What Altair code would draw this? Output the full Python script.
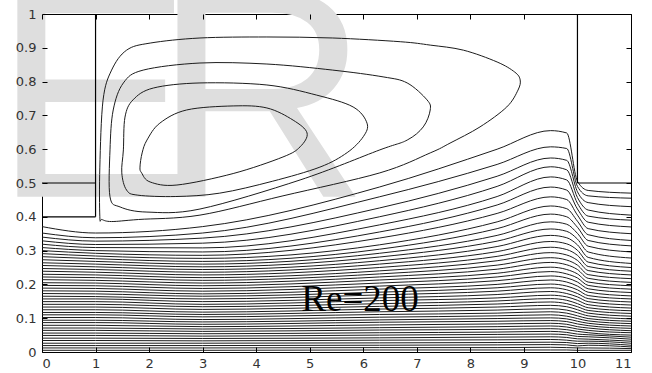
import altair as alt
import pandas as pd

# ---------------- axis ticks ----------------
X_TICKS = list(range(0, 12))
Y_TICKS = [0, 0.1, 0.2, 0.3, 0.4, 0.5, 0.6, 0.7, 0.8, 0.9, 1]

# ---------------- solid walls (x1, y1, x2, y2) ----------------
WALL_X1 = [0, 0, 1, 10, 10]
WALL_Y1 = [0.4, 0.5, 0.4, 0.5, 0.5]
WALL_X2 = [1, 1, 1, 10, 11]
WALL_Y2 = [0.4, 0.5, 1.0, 1.0, 0.5]

# ---------------- closed recirculation streamlines ----------------
VORTEX_1_X = [1.08, 1.08, 1.14, 1.30, 1.58, 2.02, 2.95, 4.20, 5.43, 6.69, 7.25, 7.87, 8.50, 8.83, 8.93,
              8.89, 8.68, 8.18, 7.62, 7.25, 6.31, 4.50, 2.95, 1.80, 1.30, 1.12]
VORTEX_1_Y = [0.40, 0.547, 0.745, 0.834, 0.893, 0.914, 0.929, 0.932, 0.929, 0.918, 0.908, 0.893, 0.858, 0.828, 0.805,
              0.775, 0.725, 0.666, 0.618, 0.589, 0.530, 0.462, 0.405, 0.392, 0.386, 0.392]

VORTEX_2_X = [1.27, 1.27, 1.33, 1.52, 1.89, 2.95, 4.20, 5.43, 6.37, 6.82, 7.19, 7.25, 7.12, 6.82, 6.31,
              4.82, 2.95, 1.96, 1.46]
VORTEX_2_Y = [0.459, 0.598, 0.716, 0.796, 0.834, 0.855, 0.852, 0.834, 0.814, 0.796, 0.746, 0.716, 0.666, 0.627, 0.598,
              0.509, 0.423, 0.414, 0.429]

VORTEX_3_X = [1.49, 1.52, 1.55, 1.70, 2.08, 2.95, 4.20, 5.13, 5.81, 6.07, 6.00, 5.70, 5.19, 4.30, 3.32,
              2.50, 1.79, 1.58]
VORTEX_3_Y = [0.53, 0.598, 0.695, 0.746, 0.781, 0.796, 0.790, 0.760, 0.725, 0.677, 0.637, 0.590, 0.547, 0.505, 0.470,
              0.460, 0.464, 0.479]

VORTEX_4_X = [1.83, 1.87, 1.96, 2.20, 2.70, 3.57, 4.20, 4.69, 4.95, 4.82, 4.50, 3.57, 2.52, 2.02, 1.86]
VORTEX_4_Y = [0.547, 0.589, 0.627, 0.677, 0.716, 0.728, 0.722, 0.686, 0.648, 0.607, 0.577, 0.528, 0.494, 0.503, 0.53]

# ---------------- through-flow streamlines, y read at fixed x stations ----------------
STATIONS = [0, 1, 3, 6.3, 8.5, 9.5, 9.8, 10.0, 10.2, 11]
Y_X0 = [0.371, 0.352, 0.340, 0.329, 0.319, 0.309, 0.300, 0.291, 0.282, 0.273, 0.264, 0.256, 0.247, 0.239, 0.230,
        0.222, 0.214, 0.205, 0.197, 0.189, 0.181, 0.173, 0.165, 0.157, 0.149, 0.141, 0.133, 0.125, 0.117, 0.110,
        0.102, 0.094, 0.087, 0.079, 0.071, 0.064, 0.056, 0.049, 0.041, 0.034, 0.026, 0.019, 0.012, 0.005]
Y_X1 = [0.352, 0.338, 0.328, 0.318, 0.309, 0.300, 0.292, 0.284, 0.276, 0.268, 0.260, 0.252, 0.244, 0.236, 0.228,
        0.220, 0.212, 0.204, 0.196, 0.188, 0.180, 0.172, 0.164, 0.157, 0.149, 0.141, 0.133, 0.125, 0.117, 0.110,
        0.102, 0.094, 0.087, 0.079, 0.071, 0.064, 0.056, 0.049, 0.041, 0.034, 0.026, 0.019, 0.012, 0.005]
Y_X3 = [0.371, 0.352, 0.337, 0.322, 0.308, 0.296, 0.286, 0.277, 0.268, 0.260, 0.252, 0.244, 0.236, 0.228, 0.220,
        0.212, 0.204, 0.196, 0.188, 0.180, 0.172, 0.165, 0.157, 0.149, 0.141, 0.134, 0.126, 0.118, 0.111, 0.104,
        0.096, 0.089, 0.082, 0.075, 0.068, 0.061, 0.054, 0.047, 0.040, 0.033, 0.026, 0.019, 0.012, 0.005]
Y_X63 = [0.488, 0.459, 0.426, 0.400, 0.376, 0.355, 0.337, 0.317, 0.304, 0.292, 0.281, 0.270, 0.260, 0.250, 0.240,
         0.231, 0.222, 0.213, 0.204, 0.195, 0.186, 0.177, 0.169, 0.160, 0.152, 0.143, 0.135, 0.127, 0.119, 0.111,
         0.103, 0.095, 0.088, 0.080, 0.072, 0.065, 0.057, 0.050, 0.042, 0.035, 0.027, 0.020, 0.013, 0.006]
Y_X85 = [0.600, 0.555, 0.520, 0.490, 0.460, 0.435, 0.410, 0.385, 0.365, 0.345, 0.328, 0.312, 0.297, 0.283, 0.270,
         0.257, 0.245, 0.233, 0.222, 0.211, 0.200, 0.190, 0.180, 0.170, 0.160, 0.151, 0.142, 0.133, 0.124, 0.115,
         0.107, 0.099, 0.091, 0.083, 0.075, 0.067, 0.059, 0.052, 0.044, 0.036, 0.028, 0.021, 0.013, 0.006]
Y_X95 = [0.655, 0.607, 0.574, 0.548, 0.518, 0.488, 0.459, 0.432, 0.408, 0.385, 0.364, 0.345, 0.327, 0.310, 0.294,
         0.279, 0.265, 0.251, 0.238, 0.225, 0.213, 0.201, 0.190, 0.179, 0.168, 0.158, 0.148, 0.138, 0.128, 0.119,
         0.110, 0.101, 0.093, 0.085, 0.077, 0.069, 0.061, 0.053, 0.045, 0.037, 0.029, 0.022, 0.014, 0.006]
Y_X98 = [0.648, 0.602, 0.567, 0.539, 0.509, 0.479, 0.451, 0.424, 0.400, 0.378, 0.357, 0.338, 0.320, 0.303, 0.287,
         0.272, 0.258, 0.244, 0.231, 0.219, 0.207, 0.195, 0.184, 0.173, 0.163, 0.153, 0.143, 0.134, 0.124, 0.115,
         0.106, 0.098, 0.090, 0.082, 0.074, 0.066, 0.058, 0.051, 0.043, 0.035, 0.028, 0.021, 0.013, 0.006]
Y_X100 = [0.505, 0.490, 0.474, 0.457, 0.440, 0.423, 0.405, 0.387, 0.369, 0.351, 0.334, 0.317, 0.301, 0.286, 0.271,
          0.257, 0.244, 0.231, 0.219, 0.207, 0.195, 0.184, 0.173, 0.163, 0.153, 0.143, 0.134, 0.125, 0.116, 0.107,
          0.099, 0.091, 0.083, 0.075, 0.068, 0.061, 0.053, 0.046, 0.039, 0.032, 0.025, 0.018, 0.012, 0.005]
Y_X102 = [0.478, 0.462, 0.442, 0.420, 0.402, 0.384, 0.365, 0.347, 0.330, 0.313, 0.296, 0.280, 0.266, 0.253, 0.241,
          0.229, 0.218, 0.207, 0.197, 0.187, 0.177, 0.167, 0.158, 0.149, 0.140, 0.131, 0.123, 0.115, 0.107, 0.099,
          0.092, 0.085, 0.078, 0.071, 0.064, 0.057, 0.051, 0.045, 0.038, 0.032, 0.026, 0.020, 0.012, 0.005]
Y_X11 = [0.470, 0.455, 0.430, 0.405, 0.390, 0.370, 0.350, 0.330, 0.314, 0.296, 0.278, 0.262, 0.250, 0.239, 0.228,
         0.217, 0.206, 0.196, 0.186, 0.176, 0.166, 0.157, 0.148, 0.139, 0.130, 0.122, 0.114, 0.106, 0.098, 0.091,
         0.084, 0.077, 0.070, 0.063, 0.057, 0.050, 0.044, 0.038, 0.032, 0.026, 0.020, 0.015, 0.010, 0.005]
STATION_VALUES = [Y_X0, Y_X1, Y_X3, Y_X63, Y_X85, Y_X95, Y_X98, Y_X100, Y_X102, Y_X11]

# ---------------- labels ----------------
RE_LABEL = "Re=200"
WATERMARK = ["E", "R"]
WATERMARK_FONT = ["Liberation Sans Narrow, Liberation Sans", "Liberation Sans"]

# ---------------- tables ----------------
rows = []
for line_id in range(len(Y_X0)):
    for sx, col in zip(STATIONS, STATION_VALUES):
        rows.append({"line": line_id, "x": sx, "y": col[line_id]})
through = pd.DataFrame(rows)

vrows = []
for vid, (xs_, ys_) in enumerate([(VORTEX_1_X, VORTEX_1_Y), (VORTEX_2_X, VORTEX_2_Y),
                                  (VORTEX_3_X, VORTEX_3_Y), (VORTEX_4_X, VORTEX_4_Y)]):
    for i, (xv, yv) in enumerate(zip(xs_, ys_)):
        vrows.append({"loop": vid, "i": i, "x": xv, "y": yv})
vortex = pd.DataFrame(vrows)

walls = pd.DataFrame({"x1": WALL_X1, "y1": WALL_Y1, "x2": WALL_X2, "y2": WALL_Y2})
re_df = pd.DataFrame({"t": [RE_LABEL], "x": [5.94], "y": [0.121]})

xs = alt.Scale(domain=[0, 11], nice=False, zero=False)
ys = alt.Scale(domain=[0, 1], nice=False, zero=False)

LINE = "#1c1c1c"
AX = dict(tickSize=5, offset=-5, domain=False, grid=False, tickColor="black", zindex=1,
          labelFont="DejaVu Sans", labelFontSize=13, labelColor="#333333", title=None)

# large faint letters behind the plot
mark_layers = []
for letter, fam, px, py in zip(WATERMARK, WATERMARK_FONT, [-0.92, 2.07], [0.459, 0.459]):
    mark_layers.append(
        alt.Chart(pd.DataFrame({"t": [letter], "x": [px], "y": [py]})).mark_text(
            font=fam, fontSize=300, align="left", baseline="alphabetic", color="#dedede"
        ).encode(x=alt.X("x:Q", scale=xs, axis=None), y=alt.Y("y:Q", scale=ys, axis=None), text="t:N")
    )

open_lines = alt.Chart(through).mark_line(
    color=LINE, strokeWidth=1, interpolate="monotone", clip=True
).encode(
    x=alt.X("x:Q", scale=xs, axis=alt.Axis(orient="bottom", values=X_TICKS, format="d", labelPadding=5, **AX)),
    y=alt.Y("y:Q", scale=ys, axis=alt.Axis(orient="left", values=Y_TICKS, format="~g", labelPadding=6, **AX)),
    detail="line:N",
)

loops = alt.Chart(vortex).mark_line(
    color=LINE, strokeWidth=1, interpolate="cardinal-closed", clip=True
).encode(
    x=alt.X("x:Q", scale=xs, axis=alt.Axis(orient="top", values=X_TICKS, labels=False, **AX)),
    y=alt.Y("y:Q", scale=ys, axis=alt.Axis(orient="right", values=Y_TICKS, labels=False, **AX)),
    detail="loop:N",
    order="i:Q",
)

wall_rules = alt.Chart(walls).mark_rule(color="black", strokeWidth=1.2).encode(
    x=alt.X("x1:Q", scale=xs, axis=None), y=alt.Y("y1:Q", scale=ys, axis=None), x2="x2:Q", y2="y2:Q"
)

re_text = alt.Chart(re_df).mark_text(
    font="Liberation Serif", fontSize=37, align="center", baseline="alphabetic", color="black"
).encode(x=alt.X("x:Q", scale=xs, axis=None), y=alt.Y("y:Q", scale=ys, axis=None), text="t:N")

chart = alt.layer(*mark_layers, open_lines, loops, wall_rules, re_text).resolve_axis(
    x="independent", y="independent"
).properties(
    width=589, height=338,
    autosize=alt.AutoSizeParams(type="none"),
    padding={"left": 42, "top": 14, "right": 21, "bottom": 21},
    background="white",
).configure_view(stroke="black", strokeWidth=1)

chart.save("out.html", embed_options={"renderer": "svg", "actions": False})
